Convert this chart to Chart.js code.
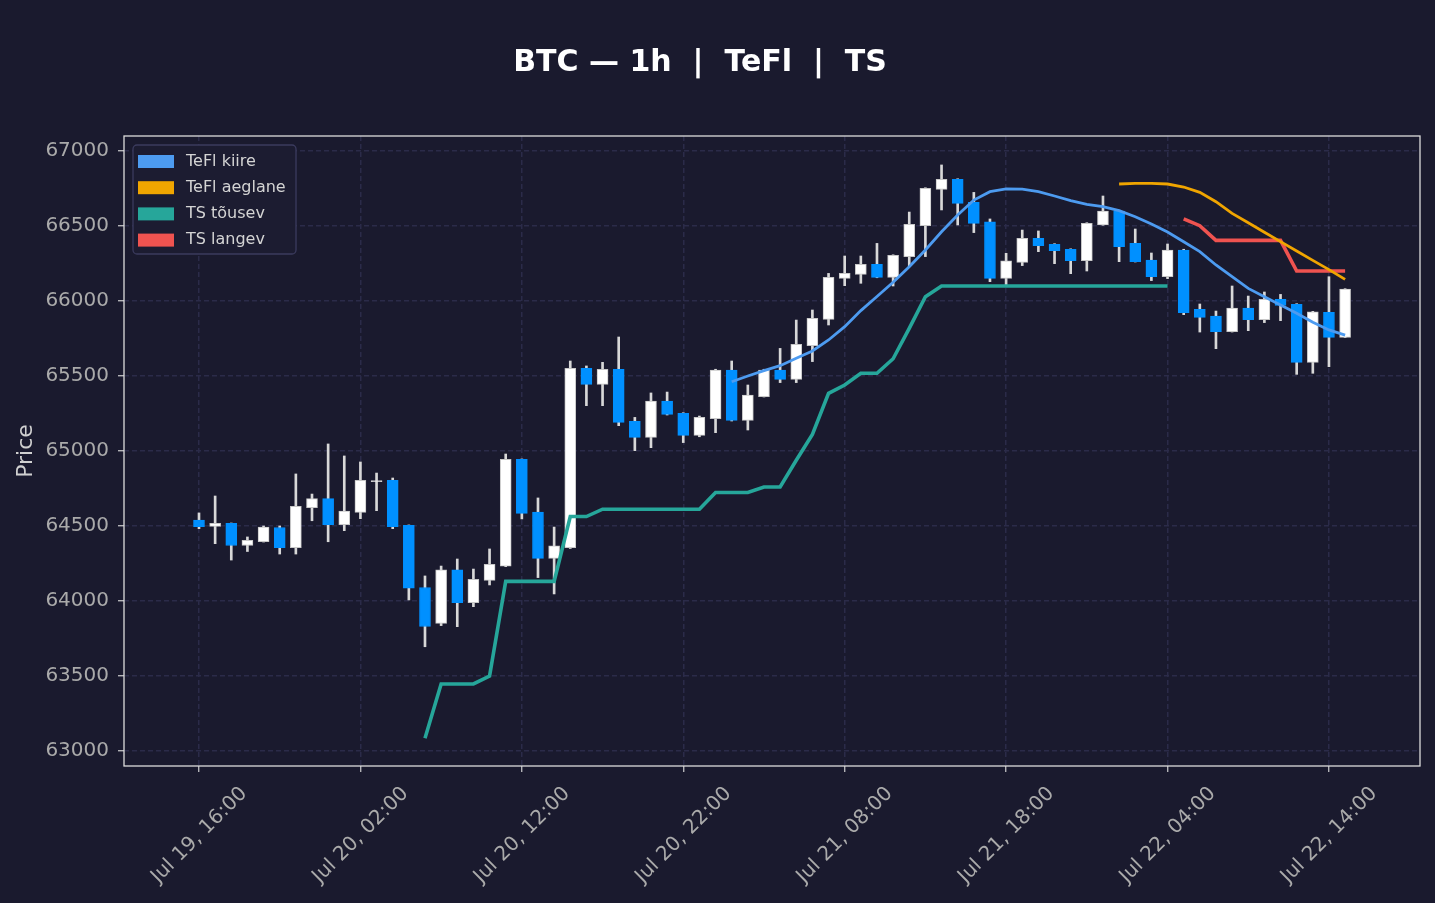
<!DOCTYPE html>
<html lang="et">
    <head>
        <meta charset="UTF-8" />
        <title>BTC — 1h | TeFl | TS</title>
        <script src="https://cdn.jsdelivr.net/npm/chart.js"></script>
        <style>
            html,
            body {
                margin: 0;
                padding: 0;
                background: #1a1a2e;
            }
            canvas {
                display: block;
            }
        </style>
    </head>
    <body>
        <canvas id="btcChart" width="1435" height="903"></canvas>

        <script>
            // hourly candles, index 0 = Jul 19 16:00
            const opens = [
                64540, 64497, 64518, 64370, 64395, 64490, 64355, 64622, 64683, 64509, 64591, 64795,
                64804, 64505, 64090, 63851, 64207, 63989, 64138, 64233, 64944, 64593, 64284, 64355,
                65551, 65444, 65544, 65198, 65091, 65333, 65251, 65104, 65216, 65540, 65204, 65362,
                65540, 65478, 65702, 65878, 66151, 66178, 66244, 66158, 66296, 66502, 66744, 66811,
                66658, 66527, 66151, 66258, 66418, 66378, 66344, 66269, 66507, 66600, 66384, 66273,
                66162, 66340, 65944, 65900, 65796, 65953, 65876, 66011, 65978, 65591, 65924, 65758,
            ];
            const highs = [
                64587, 64700, 64520, 64427, 64500, 64500, 64847, 64713, 65047, 64967, 64927, 64853,
                64820, 64507, 64167, 64233, 64280, 64213, 64347, 64980, 64947, 64687, 64493, 65600,
                65567, 65591, 65760, 65224, 65387, 65393, 65255, 65233, 65545, 65600, 65440, 65545,
                65684, 65873, 65940, 66184, 66300, 66300, 66384, 66308, 66593, 66755, 66907, 66815,
                66724, 66547, 66318, 66473, 66467, 66382, 66348, 66522, 66700, 66605, 66480, 66320,
                66380, 66345, 65980, 65933, 66100, 66033, 66060, 66044, 65982, 65931, 66162, 66082,
            ];
            const lows = [
                64482, 64382, 64273, 64330, 64393, 64313, 64313, 64535, 64395, 64469, 64549, 64602,
                64482, 64007, 63695, 63836, 63829, 63962, 64107, 64229, 64547, 64156, 64047, 64350,
                65302, 65302, 65169, 65002, 65022, 65240, 65056, 65095, 65122, 65200, 65140, 65360,
                65456, 65456, 65596, 65840, 66102, 66118, 66155, 66100, 66229, 66296, 66607, 66507,
                66456, 66129, 66107, 66236, 66329, 66249, 66182, 66200, 66505, 66262, 66260, 66136,
                66149, 65909, 65793, 65682, 65793, 65802, 65856, 65869, 65511, 65518, 65562, 65756,
            ];
            const closes = [
                64495, 64518, 64370, 64405, 64493, 64355, 64631, 64683, 64509, 64600, 64804, 64803,
                64496, 64085, 63830, 64207, 63989, 64144, 64244, 64944, 64584, 64284, 64367, 65551,
                65444, 65544, 65191, 65091, 65333, 65244, 65104, 65224, 65540, 65204, 65373, 65540,
                65478, 65711, 65884, 66158, 66184, 66244, 66158, 66304, 66511, 66751, 66811, 66651,
                66518, 66151, 66267, 66418, 66369, 66336, 66269, 66518, 66600, 66362, 66262, 66162,
                66340, 65922, 65891, 65796, 65953, 65876, 66011, 65971, 65591, 65927, 65758, 66080,
            ];

            // indicator lines, each starts at the given candle index
            const kiireStart = 33;
            const teflKiire = [
                65462, 65500, 65536, 65569, 65618, 65667, 65740, 65829, 65936, 66030, 66125, 66229,
                66340, 66462, 66573, 66673, 66729, 66747, 66746, 66729, 66700, 66669, 66644, 66629,
                66602, 66562, 66513, 66460, 66395, 66329, 66240, 66162, 66084, 66029, 65973, 65918,
                65858, 65807, 65773,
            ];
            const aeglaneStart = 57;
            const teflAeglane = [
                66780, 66784, 66784, 66780, 66760, 66724, 66662, 66584, 66522, 66458, 66396, 66333,
                66271, 66209, 66144,
            ];
            const tousevStart = 14;
            const tsTousev = [
                63085, 63447, 63447, 63447, 63500, 64131, 64131, 64131, 64131, 64563, 64563, 64612,
                64612, 64612, 64612, 64612, 64612, 64612, 64723, 64723, 64723, 64760, 64760, 64938,
                65111, 65384, 65440, 65518, 65518, 65615, 65818, 66029, 66100, 66100, 66100, 66100,
                66100, 66100, 66100, 66100, 66100, 66100, 66100, 66100, 66100, 66100, 66100,
            ];
            const langevStart = 61;
            const tsLangev = [66547, 66502, 66404, 66404, 66404, 66404, 66404, 66200, 66200, 66200, 66200];

            const tickHours = [0, 10, 20, 30, 40, 50, 60, 70];
            const tickLabels = [
                "Jul 19, 16:00",
                "Jul 20, 02:00",
                "Jul 20, 12:00",
                "Jul 20, 22:00",
                "Jul 21, 08:00",
                "Jul 21, 18:00",
                "Jul 22, 04:00",
                "Jul 22, 14:00",
            ];
            const priceTicks = [63000, 63500, 64000, 64500, 65000, 65500, 66000, 66500, 67000];

            const chartTitle = "BTC — 1h  |  TeFl  |  TS";
            const BG = "#1a1a2e";
            const UP = "#ffffff";
            const DOWN = "#0090ff";
            const legendItems = [
                { label: "TeFl kiire", color: "#4d9bf0" },
                { label: "TeFl aeglane", color: "#f0a500" },
                { label: "TS tõusev", color: "#26a69a" },
                { label: "TS langev", color: "#ef5350" },
            ];

            function lineData(values, start) {
                return values.map((v, k) => ({ x: start + k, y: v }));
            }

            const isUp = opens.map((o, i) => closes[i] >= o);

            const decorPlugin = {
                id: "decor",
                beforeDraw(chart) {
                    const ctx = chart.ctx;
                    ctx.save();
                    ctx.fillStyle = BG;
                    ctx.fillRect(0, 0, chart.width, chart.height);
                    ctx.restore();
                },
                afterDraw(chart) {
                    const ctx = chart.ctx;
                    const a = chart.chartArea;
                    ctx.save();

                    // title (figure-level, sits a bit left of the page centre)
                    ctx.fillStyle = "#ffffff";
                    ctx.font = "bold 30px 'DejaVu Sans'";
                    ctx.textAlign = "center";
                    ctx.textBaseline = "middle";
                    ctx.fillText(chartTitle, 700, 63);

                    // frame round the plot
                    ctx.strokeStyle = "#dcdcdc";
                    ctx.lineWidth = 1.3;
                    ctx.strokeRect(a.left, a.top, a.right - a.left, a.bottom - a.top);

                    // legend box top-left inside the plot
                    const bx = a.left + 9;
                    const by = a.top + 9;
                    ctx.fillStyle = "#1c1c31";
                    ctx.strokeStyle = "#3b3b5e";
                    ctx.lineWidth = 1.3;
                    ctx.beginPath();
                    ctx.roundRect(bx, by, 163, 109, 4);
                    ctx.fill();
                    ctx.stroke();
                    ctx.font = "16px 'DejaVu Sans'";
                    ctx.textAlign = "left";
                    legendItems.forEach((item, k) => {
                        const cy = by + 16.5 + k * 26.2;
                        ctx.fillStyle = item.color;
                        ctx.fillRect(bx + 5, cy - 6.5, 36, 13);
                        ctx.fillStyle = "#d4d4d4";
                        ctx.fillText(item.label, bx + 53, cy);
                    });
                    ctx.restore();
                },
            };

            const ctx = document.getElementById("btcChart").getContext("2d");
            new Chart(ctx, {
                type: "bar",
                data: {
                    datasets: [
                        {
                            type: "line",
                            label: "TeFl kiire",
                            data: lineData(teflKiire, kiireStart),
                            borderColor: "#4d9bf0",
                            borderWidth: 2.8,
                            pointRadius: 0,
                            order: 0,
                        },
                        {
                            type: "line",
                            label: "TeFl aeglane",
                            data: lineData(teflAeglane, aeglaneStart),
                            borderColor: "#f0a500",
                            borderWidth: 2.8,
                            pointRadius: 0,
                            order: 0,
                        },
                        {
                            type: "line",
                            label: "TS tõusev",
                            data: lineData(tsTousev, tousevStart),
                            borderColor: "#26a69a",
                            borderWidth: 3.6,
                            pointRadius: 0,
                            order: 0,
                        },
                        {
                            type: "line",
                            label: "TS langev",
                            data: lineData(tsLangev, langevStart),
                            borderColor: "#ef5350",
                            borderWidth: 3.6,
                            pointRadius: 0,
                            order: 0,
                        },
                        {
                            label: "body",
                            data: opens.map((o, i) => ({ x: i, y: [o, closes[i]] })),
                            backgroundColor: isUp.map((u) => (u ? UP : DOWN)),
                            borderColor: isUp.map((u) => (u ? "#c8c8c8" : DOWN)),
                            borderWidth: 1,
                            borderSkipped: false,
                            grouped: false,
                            barPercentage: 1,
                            categoryPercentage: 1,
                            maxBarThickness: 11,
                            order: 1,
                        },
                        {
                            label: "wick",
                            data: lows.map((l, i) => ({ x: i, y: [l, highs[i]] })),
                            backgroundColor: "#d8d8d8",
                            borderWidth: 0,
                            grouped: false,
                            barPercentage: 1,
                            categoryPercentage: 1,
                            maxBarThickness: 2,
                            order: 2,
                        },
                    ],
                },
                options: {
                    responsive: false,
                    animation: false,
                    events: [],
                    layout: {
                        padding: { left: 0, right: 15, top: 136, bottom: 0 },
                    },
                    plugins: {
                        legend: { display: false },
                        tooltip: { enabled: false },
                        title: { display: false },
                    },
                    scales: {
                        x: {
                            type: "linear",
                            min: -4.646,
                            max: 75.64,
                            offset: false,
                            afterBuildTicks(scale) {
                                scale.ticks = tickHours.map((v) => ({ value: v }));
                            },
                            afterFit(scale) {
                                scale.height = 137;
                            },
                            ticks: {
                                autoSkip: false,
                                maxRotation: 45,
                                minRotation: 45,
                                padding: 10,
                                labelOffset: 45,
                                color: "#aaaaaa",
                                font: { family: "'DejaVu Sans'", size: 20 },
                                callback: (v) => tickLabels[tickHours.indexOf(v)],
                            },
                            grid: {
                                offset: false,
                                color: "#2b2b49",
                                lineWidth: 1.5,
                                tickColor: "#cfcfcf",
                                tickLength: 6,
                                tickWidth: 1.2,
                                tickBorderDash: [],
                            },
                            border: { display: false, dash: [5, 3] },
                        },
                        y: {
                            min: 62900,
                            max: 67100,
                            afterBuildTicks(scale) {
                                scale.ticks = priceTicks.map((v) => ({ value: v }));
                            },
                            afterFit(scale) {
                                scale.width = 124;
                            },
                            title: {
                                display: true,
                                text: "Price",
                                color: "#d0d0d0",
                                font: { family: "'DejaVu Sans'", size: 22 },
                                padding: { top: 13, bottom: 0 },
                            },
                            ticks: {
                                padding: 9,
                                color: "#aaaaaa",
                                font: { family: "'DejaVu Sans'", size: 20 },
                                callback: (v) => String(v),
                            },
                            grid: {
                                color: "#2b2b49",
                                lineWidth: 1.5,
                                tickColor: "#cfcfcf",
                                tickLength: 6,
                                tickWidth: 1.2,
                                tickBorderDash: [],
                            },
                            border: { display: false, dash: [5, 3] },
                        },
                    },
                },
                plugins: [decorPlugin],
            });
        </script>
    </body>
</html>
